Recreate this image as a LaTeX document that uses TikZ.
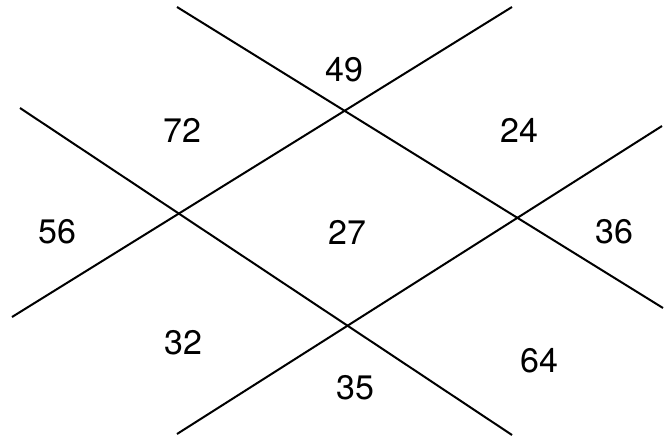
\documentclass[tikz,border=0pt]{standalone}
\usepackage{fontspec}
\setmainfont{TeX Gyre Heros}
\begin{document}
\begin{tikzpicture}[x=1pt,y=-1pt,
  gridline/.style={line width=2pt,black},
  num/.style={font=\fontsize{34}{40}\selectfont,inner sep=0pt}]
\useasboundingbox (0,0) rectangle (668,436);
% end points
\coordinate (a1) at (177,7);
\coordinate (a2) at (663,308);
\coordinate (b1) at (20,108);
\coordinate (b2) at (512,435);
\coordinate (c1) at (12,317);
\coordinate (c2) at (512,7);
\coordinate (d1) at (177,434);
\coordinate (d2) at (662,126);
\draw[gridline] (a1) -- (a2);
\draw[gridline] (b1) -- (b2);
\draw[gridline] (c1) -- (c2);
\draw[gridline] (d1) -- (d2);
\node[num] (n49) at (344,70) {49};
\node[num] (n72) at (182,130) {72};
\node[num] (n24) at (519,130) {24};
\node[num] (n56) at (57,232) {56};
\node[num] (n27) at (347,232) {27};
\node[num] (n36) at (614,232) {36};
\node[num] (n32) at (183,343) {32};
\node[num] (n35) at (355,388) {35};
\node[num] (n64) at (539,361) {64};
\end{tikzpicture}
\end{document}
